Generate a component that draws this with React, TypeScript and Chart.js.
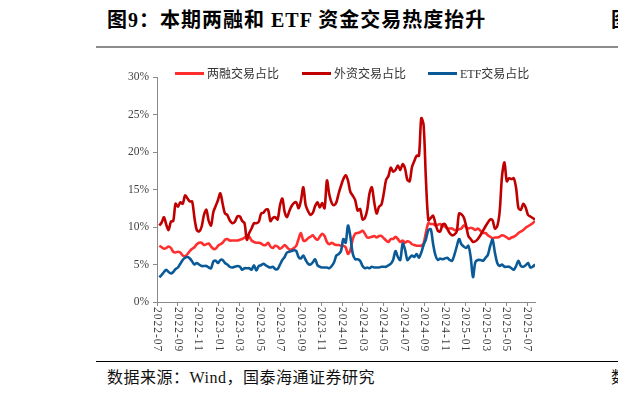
import React, { useEffect, useRef } from 'react';
import { Chart, registerables } from 'chart.js';

Chart.register(...registerables);

// weekly observations starting from this date
const startDate = '2022-07-08';

const seriesNames = ['两融交易占比', '外资交易占比', 'ETF交易占比'];
const seriesColors = ['#FF2F2F', '#C00000', '#0B5A98'];

// 两融交易占比 (%)
const marginShare = [
  7.5, 7.3, 7.1, 7.2, 7.4, 7.2, 6.7, 6.6, 6.7, 6.6,
  6.2, 6.1, 6.4, 6.8, 7.1, 7.3, 7.7, 7.9, 7.9, 7.6,
  7.7, 7.8, 7.4, 7.1, 7.1, 7.5, 7.7, 7.9, 8.3, 8.4,
  8.2, 8.2, 8.2, 8.2, 8.3, 8.4, 8.6, 8.8, 8.7, 8.2,
  8.0, 7.9, 7.9, 7.8, 7.6, 7.6, 7.9, 7.4, 7.2, 7.5,
  7.4, 7.1, 7.3, 7.6, 7.3, 7.0, 7.0, 7.2, 7.5, 8.4,
  9.2, 8.2, 8.2, 8.5, 8.7, 8.9, 8.5, 8.3, 8.7, 9.1,
  8.8, 8.0, 7.7, 7.9, 7.7, 7.6, 7.6, 7.5, 7.5, 7.3,
  6.4, 6.9, 8.3, 9.1, 9.2, 9.3, 9.5, 9.1, 8.6, 8.6,
  8.7, 8.8, 8.6, 8.8, 8.8, 8.5, 8.2, 8.0, 8.4, 8.4,
  8.7, 8.4, 8.0, 8.2, 7.9, 8.1, 8.0, 7.7, 7.6, 7.5,
  7.5, 7.5, 7.8, 9.3, 10.5, 10.4, 10.4, 10.2, 10.3, 10.4,
  10.1, 10.1, 9.8, 9.8, 9.8, 9.6, 9.6, 9.7, 9.8, 10.2,
  10.0, 9.8, 9.9, 9.8, 9.6, 9.8, 9.5, 9.2, 9.2, 8.9,
  8.7, 8.5, 8.6, 8.6, 8.7, 8.9, 8.8, 8.6, 8.4, 8.6,
  8.7, 8.9, 9.2, 9.4, 9.6, 9.9, 10.1, 10.3, 10.5, 10.8,
];

// 外资交易占比 (%)
const foreignShare = [
  10.2, 10.6, 11.3, 10.3, 9.6, 10.7, 10.8, 13.1, 12.7, 13.3,
  13.1, 14.2, 13.8, 13.4, 13.4, 11.2, 9.6, 9.4, 10.0, 11.6,
  12.3, 10.8, 10.2, 12.0, 12.8, 13.6, 14.5, 13.1, 11.8, 11.6,
  10.9, 10.5, 10.7, 11.4, 11.4, 10.8, 10.5, 8.3, 9.2, 9.8,
  10.5, 10.5, 10.7, 11.8, 11.9, 12.3, 12.3, 10.8, 11.2, 11.3,
  11.0, 12.9, 13.8, 12.0, 11.3, 12.1, 12.8, 13.2, 13.3, 12.5,
  13.5, 15.3, 12.9, 12.1, 11.6, 11.9, 12.8, 13.3, 12.6, 13.2,
  12.5, 16.2, 14.3, 13.2, 12.9, 13.3, 14.5, 15.5, 16.4, 16.9,
  16.2, 14.7, 14.2, 13.6, 12.2, 12.4, 11.0, 11.2, 12.3, 14.5,
  15.3, 13.3, 11.8, 12.7, 13.0, 14.5, 16.3, 16.8, 17.9, 17.4,
  17.6, 18.2, 17.6, 18.4, 17.8, 16.3, 16.1, 18.0, 18.8, 19.5,
  19.5, 24.5, 23.6, 16.2, 10.9, 11.2, 11.5, 10.4, 9.5, 9.4,
  10.3, 10.4, 9.8, 9.2, 8.9, 9.0, 9.4, 11.8, 11.7, 11.3,
  10.2, 8.8, 8.4, 8.0, 8.1, 8.4, 8.9, 9.5, 10.1, 10.6,
  11.0, 10.9, 9.8, 10.1, 12.0, 16.8, 18.6, 16.1, 16.5, 16.4,
  16.5, 15.2, 12.5, 12.3, 13.1, 12.6, 11.6, 11.4, 11.2, 11.0,
];

// ETF交易占比 (%)
const etfShare = [
  3.3, 3.6, 4.0, 4.3, 4.0, 3.8, 4.0, 4.4, 4.6, 5.1,
  5.6, 5.9, 6.0, 5.8, 5.4, 5.0, 5.2, 5.0, 4.8, 4.8,
  4.8, 4.6, 4.5, 5.4, 5.5, 5.2, 5.6, 5.6, 5.2, 5.0,
  4.7, 4.6, 4.7, 4.8, 4.7, 4.3, 4.5, 4.5, 4.5, 4.3,
  4.9, 4.2, 4.8, 4.9, 5.1, 4.9, 4.7, 4.6, 4.7, 4.4,
  4.4, 5.0, 5.6, 6.0, 6.6, 6.7, 6.8, 6.9, 6.8, 6.0,
  5.8, 6.2, 5.6, 5.1, 5.0, 5.3, 5.7, 4.9, 4.7, 4.6,
  4.6, 4.6, 4.5, 4.8, 5.3, 6.2, 6.4, 6.8, 8.4, 7.9,
  10.2, 8.8, 6.5, 5.7, 5.7, 5.5, 4.8, 4.5, 4.6, 4.5,
  4.7, 4.6, 4.6, 4.6, 4.7, 4.7, 4.7, 4.9, 5.1, 5.6,
  6.8, 6.0, 5.6, 7.8, 7.0, 5.6, 5.9, 6.2, 6.0, 6.4,
  5.9, 6.6, 7.6, 8.4, 9.6, 9.7, 7.7, 6.2, 5.6, 5.8,
  5.7, 5.8, 5.9, 5.6, 5.5, 6.3, 7.4, 8.4, 7.7, 7.4,
  7.2, 7.5, 6.0, 3.3, 5.3, 5.6, 5.6, 5.5, 5.9, 6.3,
  7.5, 8.3, 6.6, 5.2, 4.8, 5.0, 4.7, 4.7, 4.7, 4.5,
  4.3, 4.8, 5.5, 4.8, 4.7, 4.9, 5.2, 4.6, 4.7, 5.0,
];

const xTickLabels = [
  '2022-07', '2022-09', '2022-11', '2023-01', '2023-03', '2023-05', '2023-07',
  '2023-09', '2023-11', '2024-01', '2024-03', '2024-05', '2024-07', '2024-09',
  '2024-11', '2025-01', '2025-03', '2025-05', '2025-07',
];
const yTicks = [0, 5, 10, 15, 20, 25, 30];

const SERIF = '"Liberation Serif", "Noto Sans CJK SC", serif';

// month index relative to 2022-07 for weekly observation i
function weekPos(i: number): number {
  const [y0, m0, d0] = startDate.split('-').map(Number);
  const d = new Date(Date.UTC(y0, m0 - 1, d0) + i * 7 * 86400000);
  const y = d.getUTCFullYear();
  const m = d.getUTCMonth();
  const day = d.getUTCDate();
  const dim = new Date(Date.UTC(y, m + 1, 0)).getUTCDate();
  return (y - 2022) * 12 + (m - 6) + (day - 1) / dim;
}

function tickPos(label: string): number {
  const [y, m] = label.split('-').map(Number);
  return (y - 2022) * 12 + (m - 7);
}

const xLabelPlugin = {
  id: 'verticalXLabels',
  afterDraw(chart: any) {
    const { ctx } = chart;
    const xs = chart.scales.x;
    ctx.save();
    ctx.font = `11.5px ${SERIF}`;
    ctx.fillStyle = '#404040';
    ctx.textAlign = 'left';
    ctx.textBaseline = 'middle';
    try { (ctx as any).letterSpacing = '1px'; } catch (e) {}
    xTickLabels.forEach((lab) => {
      const px = xs.getPixelForValue(tickPos(lab));
      ctx.save();
      ctx.translate(px, xs.top + 5);
      ctx.rotate(Math.PI / 2);
      ctx.fillText(lab, 0, 0);
      ctx.restore();
    });
    ctx.restore();
  },
};

function ChartCanvas() {
  const ref = useRef<HTMLCanvasElement | null>(null);
  useEffect(() => {
    if (!ref.current) return;
    const all = [marginShare, foreignShare, etfShare];
    const lastX = weekPos(marginShare.length - 1);
    const chart = new Chart(ref.current, {
      type: 'line',
      data: {
        datasets: all.map((arr, si) => ({
          label: seriesNames[si],
          data: arr.map((v, i) => ({ x: weekPos(i), y: v })),
          borderColor: seriesColors[si],
          backgroundColor: seriesColors[si],
          borderWidth: 2.6,
          pointRadius: 0,
          tension: 0.3,
          fill: false,
          order: 3 - si,
        })),
      },
      options: {
        animation: false,
        responsive: false,
        devicePixelRatio: 1,
        layout: { padding: { top: 22, right: 10, bottom: 0, left: 0 } },
        plugins: { legend: { display: false }, tooltip: { enabled: false } },
        scales: {
          x: {
            type: 'linear',
            min: 0,
            max: lastX,
            afterBuildTicks: (s: any) => {
              s.ticks = xTickLabels.map((l) => ({ value: tickPos(l) }));
            },
            afterFit: (s: any) => { s.height = 53; },
            ticks: { display: false },
            grid: { drawOnChartArea: false, drawTicks: true, tickLength: 4, color: '#8a8a8a' },
            border: { color: '#8a8a8a', width: 1 },
          },
          y: {
            min: 0,
            max: 30,
            afterBuildTicks: (s: any) => {
              s.ticks = yTicks.map((v) => ({ value: v }));
            },
            afterFit: (s: any) => { s.width = 57; },
            ticks: {
              callback: (v: any) => `${v}%`,
              font: { family: SERIF, size: 11.5 },
              color: '#404040',
              padding: 4,
            },
            grid: { drawOnChartArea: false, drawTicks: true, tickLength: 4, color: '#8a8a8a' },
            border: { color: '#8a8a8a', width: 1 },
          },
        },
      },
      plugins: [xLabelPlugin],
    });
    return () => chart.destroy();
  }, []);
  return <canvas ref={ref} width={445} height={300} style={{ width: 445, height: 300, display: 'block' }} />;
}

export default function App() {
  const abs = (s: React.CSSProperties): React.CSSProperties => ({ position: 'absolute', ...s });
  const legendLefts = [175, 302, 428];
  return (
    <div style={{ position: 'fixed', left: 0, top: 0, width: 618, height: 398, overflow: 'hidden', background: '#fff', fontFamily: SERIF }}>
      <div style={abs({ left: 107, top: 7, fontSize: 20, fontWeight: 700, letterSpacing: 1, whiteSpace: 'nowrap', color: '#000', lineHeight: '26px' })}>
        图9：本期两融和 ETF 资金交易热度抬升
      </div>
      <div style={abs({ left: 611, top: 7, fontSize: 20, fontWeight: 700, whiteSpace: 'nowrap', color: '#000', lineHeight: '26px' })}>
        图10：
      </div>
      <div style={abs({ left: 96, top: 46, width: 522, height: 2, background: '#8c8c8c' })} />
      <div style={abs({ left: 100, top: 55 })}>
        <ChartCanvas />
      </div>
      {seriesNames.map((n, i) => (
        <div key={n} style={abs({ left: legendLefts[i], top: 65, height: 16, display: 'flex', alignItems: 'center', fontSize: 12, color: '#333', whiteSpace: 'nowrap' })}>
          <span style={{ display: 'inline-block', width: 29, height: 3, background: seriesColors[i], marginRight: 3 }} />
          <span>{n}</span>
        </div>
      ))}
      <div style={abs({ left: 96, top: 361, width: 522, height: 1, background: '#000' })} />
      <div style={abs({ left: 107, top: 368, fontSize: 16, letterSpacing: 0.5, whiteSpace: 'nowrap', color: '#111', lineHeight: '20px' })}>
        数据来源：Wind，国泰海通证券研究
      </div>
      <div style={abs({ left: 611, top: 368, fontSize: 16, whiteSpace: 'nowrap', color: '#111', lineHeight: '20px' })}>
        数据来源
      </div>
    </div>
  );
}
